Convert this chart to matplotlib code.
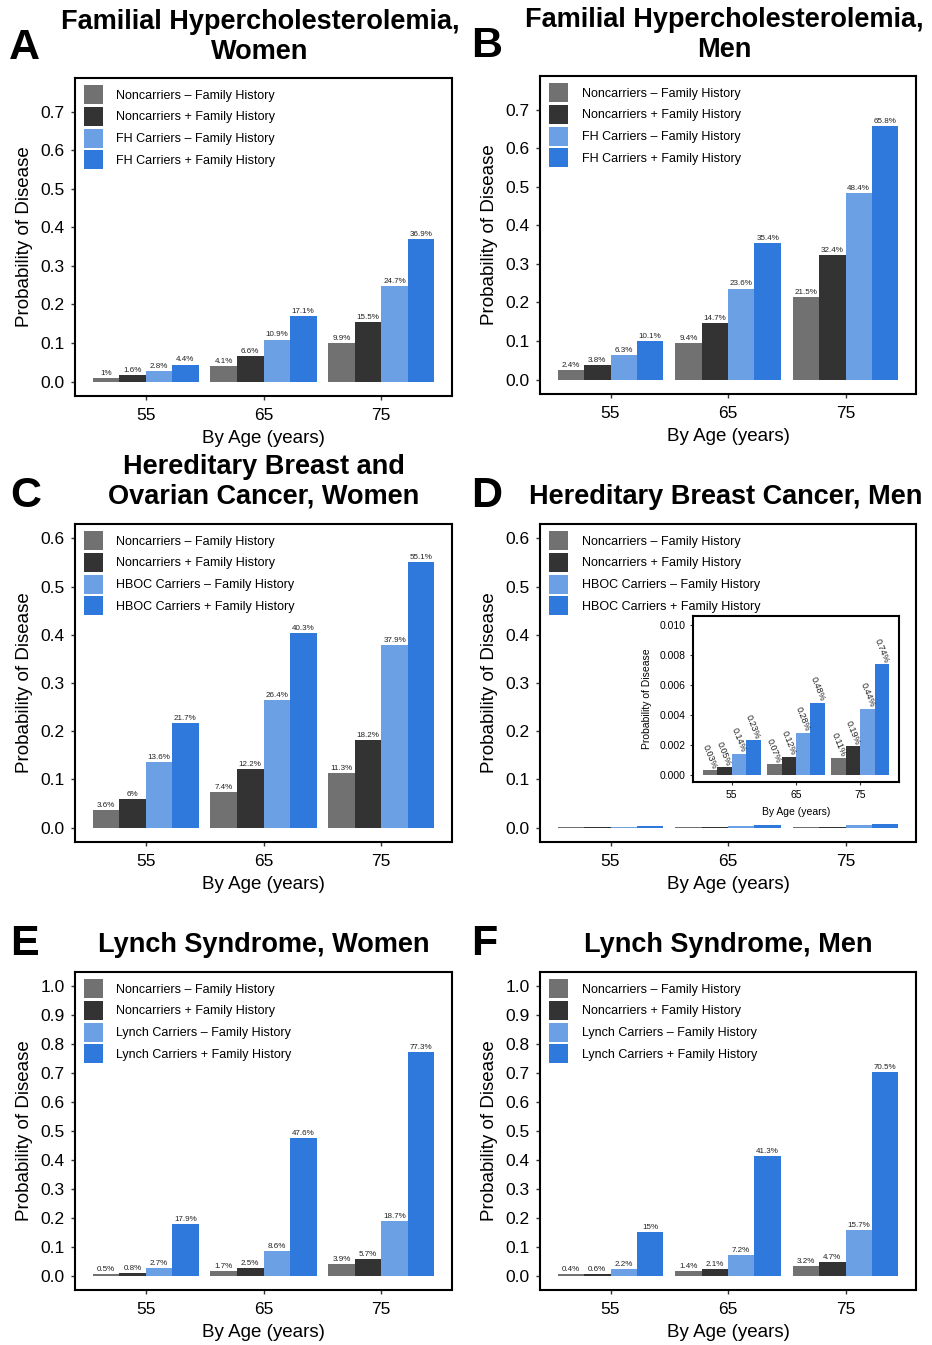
import matplotlib
matplotlib.use('Agg')
import matplotlib.pyplot as plt
import numpy as np

plt.rcParams['font.family'] = ['Liberation Sans', 'DejaVu Sans']

W, H = 932, 1345

ages = ['55', '65', '75']
colors = ['#717171', '#333333', '#6ca0e4', '#3079dc']

# A: Familial Hypercholesterolemia, Women
fh_women_nc_minus = [0.010, 0.041, 0.099]
fh_women_nc_plus = [0.016, 0.066, 0.155]
fh_women_c_minus = [0.028, 0.109, 0.247]
fh_women_c_plus = [0.044, 0.171, 0.369]

# B: Familial Hypercholesterolemia, Men
fh_men_nc_minus = [0.024, 0.094, 0.215]
fh_men_nc_plus = [0.038, 0.147, 0.324]
fh_men_c_minus = [0.063, 0.236, 0.484]
fh_men_c_plus = [0.101, 0.354, 0.658]

# C: HBOC, Women
hboc_women_nc_minus = [0.036, 0.074, 0.113]
hboc_women_nc_plus = [0.060, 0.122, 0.182]
hboc_women_c_minus = [0.136, 0.264, 0.379]
hboc_women_c_plus = [0.217, 0.403, 0.551]

# D: Hereditary Breast Cancer, Men
hbc_men_nc_minus = [0.0003, 0.0007, 0.0011]
hbc_men_nc_plus = [0.0005, 0.0012, 0.0019]
hbc_men_c_minus = [0.0014, 0.0028, 0.0044]
hbc_men_c_plus = [0.0023, 0.0048, 0.0074]

# E: Lynch Syndrome, Women
lynch_women_nc_minus = [0.005, 0.017, 0.039]
lynch_women_nc_plus = [0.008, 0.025, 0.057]
lynch_women_c_minus = [0.027, 0.086, 0.187]
lynch_women_c_plus = [0.179, 0.476, 0.773]

# F: Lynch Syndrome, Men
lynch_men_nc_minus = [0.004, 0.014, 0.032]
lynch_men_nc_plus = [0.006, 0.021, 0.047]
lynch_men_c_minus = [0.022, 0.072, 0.157]
lynch_men_c_plus = [0.150, 0.413, 0.705]


def series_labels(carrier):
    return ['Noncarriers \u2013 Family History',
            'Noncarriers + Family History',
            f'{carrier} Carriers \u2013 Family History',
            f'{carrier} Carriers + Family History']


def rect(l, t, r, b):
    return [l / W, 1 - b / H, (r - l) / W, (b - t) / H]


def pct(v, nd):
    return f'{round(v * 100, nd):g}%'


def style_axes(ax, lw=1.5):
    for s in ax.spines.values():
        s.set_linewidth(lw)
        s.set_color('black')


def draw_bars(ax, series, labels, width=0.225):
    x = np.arange(len(ages))
    for i, (vals, lab) in enumerate(zip(series, labels)):
        ax.bar(x + (i - 1.5) * width, vals, width=width, color=colors[i],
               label=lab, linewidth=0)
    ax.set_xlim(-0.6, len(ages) - 0.4)
    ax.set_xticks(x)
    ax.set_xticklabels(ages)
    return x


def panel(rect_px, series, carrier, yticks, ylim, with_labels=True):
    ax = fig.add_axes(rect(*rect_px))
    x = draw_bars(ax, series, series_labels(carrier))
    if with_labels:
        for i, vals in enumerate(series):
            for j, v in enumerate(vals):
                ax.annotate(pct(v, 1), (x[j] + (i - 1.5) * 0.225, v),
                            xytext=(0, 0.8), textcoords='offset points',
                            ha='center', va='bottom', fontsize=5.8,
                            color='#222222')
    ax.set_ylim(*ylim)
    ax.set_yticks(yticks)
    ax.set_yticklabels([f'{t:.1f}' for t in yticks])
    ax.tick_params(axis='both', labelsize=12.5, length=3, width=1,
                   pad=4.5, colors='#333333', labelcolor='black')
    ax.tick_params(axis='x', pad=5.8)
    ax.set_ylabel('Probability of Disease', fontsize=13.5)
    ax.set_xlabel('By Age (years)', fontsize=13.5)
    ax.yaxis.set_label_coords(-0.112, 0.5)
    ax.xaxis.set_label_coords(0.5, -0.106)
    style_axes(ax)
    ax.legend(loc='upper left', bbox_to_anchor=(0.0, 1.007), frameon=False,
              fontsize=9, handlelength=1.52, handleheight=1.96,
              labelspacing=0.22, handletextpad=1.05, borderpad=0.25,
              borderaxespad=0.5)
    return ax


fig = plt.figure(figsize=(W / 100, H / 100), dpi=100)

yt7 = [0.0, 0.1, 0.2, 0.3, 0.4, 0.5, 0.6, 0.7]
yt6 = [0.0, 0.1, 0.2, 0.3, 0.4, 0.5, 0.6]
yt10 = [0.0, 0.1, 0.2, 0.3, 0.4, 0.5, 0.6, 0.7, 0.8, 0.9, 1.0]

panel((75, 78, 452, 396),
      [fh_women_nc_minus, fh_women_nc_plus, fh_women_c_minus, fh_women_c_plus],
      'FH', yt7, (-0.0375, 0.7875))
panel((540, 76, 916, 394),
      [fh_men_nc_minus, fh_men_nc_plus, fh_men_c_minus, fh_men_c_plus],
      'FH', yt7, (-0.0375, 0.7875))
panel((75, 524, 452, 842),
      [hboc_women_nc_minus, hboc_women_nc_plus, hboc_women_c_minus, hboc_women_c_plus],
      'HBOC', yt6, (-0.03, 0.63))
d_series = [hbc_men_nc_minus, hbc_men_nc_plus, hbc_men_c_minus, hbc_men_c_plus]
panel((540, 524, 916, 842), d_series, 'HBOC', yt6, (-0.03, 0.63),
      with_labels=False)
panel((75, 972, 452, 1290),
      [lynch_women_nc_minus, lynch_women_nc_plus, lynch_women_c_minus, lynch_women_c_plus],
      'Lynch', yt10, (-0.05, 1.05))
panel((540, 972, 916, 1290),
      [lynch_men_nc_minus, lynch_men_nc_plus, lynch_men_c_minus, lynch_men_c_plus],
      'Lynch', yt10, (-0.05, 1.05))

# Inset for panel D
axi = fig.add_axes(rect(693, 616, 899, 782))
xi = draw_bars(axi, d_series, series_labels('HBOC'))
for i, vals in enumerate(d_series):
    for j, v in enumerate(vals):
        axi.text(xi[j] + (i - 1.5) * 0.225 + 0.07, v + 0.0001, pct(v, 2),
                 rotation=-68, rotation_mode='anchor', ha='right', va='center',
                 fontsize=6.5, color='#222222')
inset_ticks = [0.0, 0.002, 0.004, 0.006, 0.008, 0.010]
axi.set_ylim(-0.0005, 0.0106)
axi.set_yticks(inset_ticks)
axi.set_yticklabels([f'{t:.3f}' for t in inset_ticks])
axi.tick_params(axis='both', labelsize=7.5, length=2.5, width=0.8, pad=3,
                colors='#333333', labelcolor='black')
axi.set_ylabel('Probability of Disease', fontsize=7.5)
axi.set_xlabel('By Age (years)', fontsize=7.5)
axi.yaxis.set_label_coords(-0.2, 0.5)
axi.xaxis.set_label_coords(0.5, -0.15)
style_axes(axi, lw=1.5)
axi.set_facecolor('white')

# Titles
def ftext(xp, yp, s, **kw):
    fig.text(xp / W, 1 - yp / H, s, **kw)

tkw = dict(fontsize=19.5, fontweight='bold', ha='center', va='center',
           linespacing=1.2)
ftext(260, 37, 'Familial Hypercholesterolemia,\nWomen', **tkw)
ftext(724, 35, 'Familial Hypercholesterolemia,\nMen', **tkw)
ftext(264, 482, 'Hereditary Breast and\nOvarian Cancer, Women', **tkw)
ftext(726, 497, 'Hereditary Breast Cancer, Men', **tkw)
ftext(264, 945, 'Lynch Syndrome, Women', **tkw)
ftext(728, 945, 'Lynch Syndrome, Men', **tkw)

lkw = dict(fontsize=31, fontweight='bold', ha='left', va='center')
ftext(9, 48, 'A', **lkw)
ftext(471, 46, 'B', **lkw)
ftext(10, 496, 'C', **lkw)
ftext(471, 496, 'D', **lkw)
ftext(10, 944, 'E', **lkw)
ftext(471, 944, 'F', **lkw)

fig.savefig('out.png', dpi=100, facecolor='white')
